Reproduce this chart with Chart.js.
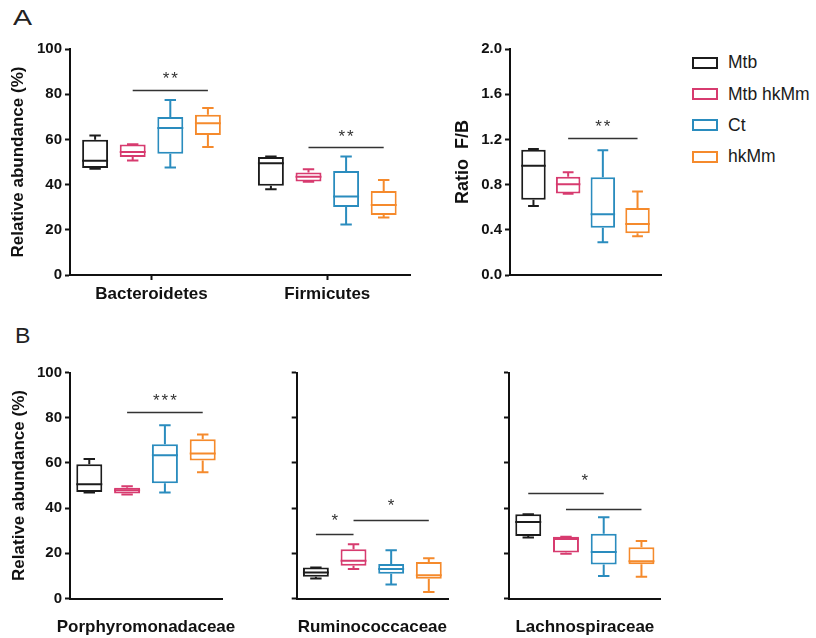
<!DOCTYPE html>
<html lang="en">
<head>
<meta charset="utf-8">
<title>Relative abundance of gut bacterial taxa</title>
<script src="https://cdn.jsdelivr.net/npm/chart.js@4.4.1/dist/chart.umd.min.js"></script>
<style>
  html, body { margin: 0; padding: 0; background: #fff; }
  body { position: relative; width: 816px; height: 638px; overflow: hidden;
         font-family: 'Liberation Sans', Arial, Helvetica, sans-serif; color: #111; }
  canvas { position: absolute; }
  .panel-letter { position: absolute; font-size: 22px; line-height: 1; color: #222; transform-origin: left top; }
  #legend { position: absolute; left: 692px; top: 47px; }
  #legend .item { height: 31.4px; display: flex; align-items: center; font-size: 17.5px; color: #1a1a1a; white-space: nowrap; }
  #legend .swatch { width: 22px; height: 8px; border: 2px solid; margin-right: 10px; }
</style>
</head>
<body>
<div class="panel-letter" style="left:13px;top:7px;transform:scaleX(1.3)">A</div>
<div class="panel-letter" style="left:15px;top:325px;transform:scaleX(1.05)">B</div>
<div id="legend"></div>
<script>
// ---- groups ----
const groups = ['Mtb', 'Mtb hkMm', 'Ct', 'hkMm'];
const groupColors = ['#1c1c1c', '#d73b6f', '#2a8cbe', '#f58a2c'];

// ---- five-number summaries per box: [min, Q1, median, Q3, max] ----
// Phylum level (relative abundance, %)
const phylumCategories = ['Bacteroidetes', 'Firmicutes'];
const phylumMtb     = [[47.0, 47.3, 50.6, 59.9, 61.7], [37.9, 39.5, 49.4, 52.2, 52.4]];
const phylumMtbHkMm = [[50.7, 52.2, 54.4, 57.7, 57.8], [41.3, 41.4, 43.5, 45.4, 46.8]];
const phylumCt      = [[47.6, 53.7, 65.0, 69.9, 77.4], [22.4, 30.1, 34.7, 46.0, 52.4]];
const phylumHkMm    = [[56.6, 61.9, 67.1, 70.9, 73.9], [25.4, 26.5, 31.0, 37.2, 42.0]];

// Firmicutes / Bacteroidetes ratio
const ratioCategories = ['F/B'];
const ratioMtb     = [[0.610, 0.665, 0.966, 1.108, 1.114]];
const ratioMtbHkMm = [[0.718, 0.721, 0.803, 0.869, 0.910]];
const ratioCt      = [[0.290, 0.419, 0.538, 0.866, 1.105]];
const ratioHkMm    = [[0.343, 0.369, 0.452, 0.594, 0.739]];

// Family level (relative abundance, %)
const porphCategories = ['Porphyromonadaceae'];
const porphMtb     = [[46.9, 47.1, 50.6, 59.4, 61.7]];
const porphMtbHkMm = [[46.0, 46.5, 47.9, 49.0, 49.7]];
const porphCt      = [[46.9, 51.0, 63.4, 68.3, 76.7]];
const porphHkMm    = [[55.9, 61.1, 64.2, 70.5, 72.6]];

const rumiCategories = ['Ruminococcaceae'];
const rumiMtb     = [[8.8, 9.6, 11.5, 13.7, 13.7]];
const rumiMtbHkMm = [[13.0, 14.5, 16.7, 21.8, 24.0]];
const rumiCt      = [[6.2, 10.9, 13.1, 15.3, 21.4]];
const rumiHkMm    = [[2.9, 8.7, 10.3, 16.1, 17.8]];

const lachCategories = ['Lachnospiraceae'];
const lachMtb     = [[27.0, 27.7, 33.9, 37.3, 37.3]];
const lachMtbHkMm = [[19.8, 20.4, 26.3, 27.3, 27.3]];
const lachCt      = [[10.0, 15.0, 20.6, 28.6, 36.0]];
const lachHkMm    = [[9.6, 15.2, 16.5, 22.7, 25.4]];

// ---- axis ticks ----
const abundanceTicks = [0, 20, 40, 60, 80, 100];
const ratioTicks = [0, 0.4, 0.8, 1.2, 1.6, 2.0];

// ---- significance bars (group indices into `groups`) ----
const phylumBrackets = [{ cat: 0, from: 1, to: 3, y: 82.0 }, { cat: 1, from: 1, to: 3, y: 56.6 }];
const phylumStars    = [{ cat: 0, from: 1, to: 3, y: 88.5, text: '**' }, { cat: 1, from: 1, to: 3, y: 62.7, text: '**' }];
const ratioBrackets  = [{ cat: 0, from: 1, to: 3, y: 1.208 }];
const ratioStars     = [{ cat: 0, from: 1, to: 3, y: 1.34, text: '**' }];
const porphBrackets  = [{ cat: 0, from: 1, to: 3, y: 82.4 }];
const porphStars     = [{ cat: 0, from: 1, to: 3, y: 88.9, text: '***' }];
const rumiBrackets   = [{ cat: 0, from: 0, to: 1, y: 28.6 }, { cat: 0, from: 1, to: 3, y: 34.7 }];
const rumiStars      = [{ cat: 0, from: 0, to: 1, y: 35.8, text: '*' }, { cat: 0, from: 1, to: 3, y: 42.5, text: '*' }];
const lachBrackets   = [{ cat: 0, from: 0, to: 2, y: 46.9 }, { cat: 0, from: 1, to: 3, y: 39.8 }];
const lachStars      = [{ cat: 0, from: 0, to: 3, y: 53.5, text: '*' }];

// ---------------------------------------------------------------
const FONT = "'Liberation Sans', Arial, Helvetica, sans-serif";
const INK = '#111';
Chart.defaults.font.family = FONT;
Chart.defaults.color = INK;

// Whiskers, caps and median lines on top of the floating Q1–Q3 bars
const boxWhiskers = {
  id: 'boxWhiskers',
  afterDatasetsDraw(chart) {
    const ctx = chart.ctx;
    const ys = chart.scales.y;
    chart.data.datasets.forEach((ds, di) => {
      const meta = chart.getDatasetMeta(di);
      meta.data.forEach((bar, i) => {
        const s = ds.summaries[i];
        const cx = bar.x, half = bar.width / 2, cap = bar.width * 0.22;
        const yMin = ys.getPixelForValue(s[0]);
        const yQ1 = ys.getPixelForValue(s[1]);
        const yMed = ys.getPixelForValue(s[2]);
        const yQ3 = ys.getPixelForValue(s[3]);
        const yMax = ys.getPixelForValue(s[4]);
        ctx.save();
        ctx.strokeStyle = ds.borderColor;
        ctx.lineWidth = 2;
        ctx.beginPath();
        ctx.moveTo(cx - half, yMed); ctx.lineTo(cx + half, yMed);
        ctx.moveTo(cx, yQ3); ctx.lineTo(cx, yMax);
        ctx.moveTo(cx - cap, yMax); ctx.lineTo(cx + cap, yMax);
        ctx.moveTo(cx, yQ1); ctx.lineTo(cx, yMin);
        ctx.moveTo(cx - cap, yMin); ctx.lineTo(cx + cap, yMin);
        ctx.stroke();
        ctx.restore();
      });
    });
  }
};

// Horizontal comparison bars with asterisks
function significance(brackets, stars) {
  return {
    id: 'significance',
    afterDatasetsDraw(chart) {
      const ctx = chart.ctx;
      const ys = chart.scales.y;
      const xAt = (g, c) => chart.getDatasetMeta(g).data[c].x;
      ctx.save();
      ctx.strokeStyle = '#333';
      ctx.lineWidth = 1.3;
      brackets.forEach(b => {
        const y = Math.round(ys.getPixelForValue(b.y)) + 0.5;
        ctx.beginPath();
        ctx.moveTo(xAt(b.from, b.cat), y);
        ctx.lineTo(xAt(b.to, b.cat), y);
        ctx.stroke();
      });
      ctx.fillStyle = '#333';
      ctx.font = '17px ' + FONT;
      ctx.letterSpacing = '2px';
      ctx.textAlign = 'center';
      ctx.textBaseline = 'middle';
      stars.forEach(s => {
        const x = (xAt(s.from, s.cat) + xAt(s.to, s.cat)) / 2 + 1;
        ctx.fillText(s.text, x, ys.getPixelForValue(s.y) + 4);
      });
      ctx.restore();
    }
  };
}

function boxChart(o) {
  const canvas = document.createElement('canvas');
  canvas.width = o.width;
  canvas.height = o.height;
  canvas.style.left = o.left + 'px';
  canvas.style.top = o.top + 'px';
  document.body.appendChild(canvas);

  const linearX = o.xRange !== undefined;
  const datasets = groups.map((g, gi) => ({
    label: g,
    summaries: o.summaries[gi],
    data: o.summaries[gi].map((s, ci) => linearX ? { x: ci + 1, y: [s[1], s[3]] } : [s[1], s[3]]),
    borderColor: groupColors[gi],
    backgroundColor: '#ffffff',
    borderWidth: 2,
    borderSkipped: false
  }));

  const yWidth = o.plot.left - o.left;
  const padding = {
    left: 0,
    top: o.plot.top - o.top,
    right: o.left + o.width - o.plot.right,
    bottom: o.top + o.height - o.plot.bottom - o.xHeight
  };

  const border = { display: true, color: INK, width: 2 };
  const xAxis = linearX ? {
    type: 'linear', min: o.xRange[0], max: o.xRange[1], offset: false,
    afterBuildTicks: s => { s.ticks = o.categories.map((c, i) => ({ value: i + 1 })); },
    ticks: { callback: (v, i) => o.categories[i], font: { size: 17, weight: 'bold' }, color: INK,
             padding: o.xLabelPad, maxRotation: 0, autoSkip: false },
    grid: { offset: false, drawOnChartArea: false, drawTicks: true, tickLength: 5, tickWidth: 2, tickColor: INK },
    border,
    afterFit: s => { s.height = o.xHeight; }
  } : {
    type: 'category', labels: o.categories, offset: true,
    ticks: { display: o.showXLabels, font: { size: 17, weight: 'bold' }, color: INK, padding: o.xLabelPad, maxRotation: 0 },
    grid: { drawOnChartArea: false, drawTicks: false },
    border,
    afterFit: s => { s.height = o.xHeight; }
  };

  const yAxis = {
    min: o.yTicks[0], max: o.yTicks[o.yTicks.length - 1],
    afterBuildTicks: s => { s.ticks = o.yTicks.map(v => ({ value: v })); },
    ticks: { font: { size: 15, weight: 'bold' }, color: INK, padding: 3,
             callback: v => o.showYLabels ? (o.yDecimals ? v.toFixed(o.yDecimals) : String(v)) : '' },
    grid: { drawOnChartArea: false, drawTicks: true, tickLength: 5, tickWidth: 2, tickColor: INK },
    border,
    title: o.yTitle ? { display: true, text: o.yTitle, font: { size: o.titleSize || 17, weight: 'bold' }, color: INK,
                        padding: { top: o.titleOffset, bottom: 0 } } : { display: false },
    afterFit: s => { s.width = yWidth; }
  };

  return new Chart(canvas, {
    type: 'bar',
    data: { datasets },
    options: {
      responsive: false,
      animation: false,
      events: [],
      layout: { padding },
      categoryPercentage: o.catPct,
      barPercentage: o.barPct,
      plugins: { legend: { display: false }, tooltip: { enabled: false } },
      scales: { x: xAxis, y: yAxis }
    },
    plugins: [boxWhiskers, significance(o.brackets, o.stars)]
  });
}

// A: phyla
boxChart({
  left: 0, top: 30, width: 420, height: 285,
  plot: { left: 70, top: 49, right: 410, bottom: 275 }, xHeight: 30,
  categories: phylumCategories, xRange: [0.5364, 2.4704], xLabelPad: 4,
  summaries: [phylumMtb, phylumMtbHkMm, phylumCt, phylumHkMm],
  yTicks: abundanceTicks, showYLabels: true,
  yTitle: 'Relative abundance (%)', titleOffset: 8,
  catPct: 0.8555, barPct: 0.69,
  brackets: phylumBrackets, stars: phylumStars
});

// A: F/B ratio
boxChart({
  left: 420, top: 30, width: 260, height: 285,
  plot: { left: 510, top: 49, right: 661, bottom: 275 }, xHeight: 30,
  categories: ratioCategories, showXLabels: false, xLabelPad: 4,
  summaries: [ratioMtb, ratioMtbHkMm, ratioCt, ratioHkMm],
  yTicks: ratioTicks, showYLabels: true, yDecimals: 1,
  yTitle: 'Ratio  F/B', titleOffset: 32, titleSize: 18,
  catPct: 0.919, barPct: 0.706,
  brackets: ratioBrackets, stars: ratioStars
});

// B: families
boxChart({
  left: 0, top: 355, width: 310, height: 290,
  plot: { left: 70, top: 372.5, right: 222, bottom: 598.5 }, xHeight: 40,
  categories: porphCategories, showXLabels: true, xLabelPad: 19,
  summaries: [porphMtb, porphMtbHkMm, porphCt, porphHkMm],
  yTicks: abundanceTicks, showYLabels: true,
  yTitle: 'Relative abundance (%)', titleOffset: 9,
  catPct: 0.995, barPct: 0.688,
  brackets: porphBrackets, stars: porphStars
});

boxChart({
  left: 240, top: 355, width: 290, height: 290,
  plot: { left: 296.7, top: 372.5, right: 448, bottom: 598.5 }, xHeight: 40,
  categories: rumiCategories, showXLabels: true, xLabelPad: 19,
  summaries: [rumiMtb, rumiMtbHkMm, rumiCt, rumiHkMm],
  yTicks: abundanceTicks, showYLabels: false,
  catPct: 0.995, barPct: 0.688,
  brackets: rumiBrackets, stars: rumiStars
});

boxChart({
  left: 460, top: 355, width: 300, height: 290,
  plot: { left: 509, top: 372.5, right: 660.7, bottom: 598.5 }, xHeight: 40,
  categories: lachCategories, showXLabels: true, xLabelPad: 19,
  summaries: [lachMtb, lachMtbHkMm, lachCt, lachHkMm],
  yTicks: abundanceTicks, showYLabels: false,
  catPct: 0.995, barPct: 0.688,
  brackets: lachBrackets, stars: lachStars
});

// Legend
const legendEl = document.getElementById('legend');
groups.forEach((g, i) => {
  const row = document.createElement('div');
  row.className = 'item';
  const sw = document.createElement('span');
  sw.className = 'swatch';
  sw.style.borderColor = groupColors[i];
  const label = document.createElement('span');
  label.textContent = g;
  row.appendChild(sw);
  row.appendChild(label);
  legendEl.appendChild(row);
});
</script>
</body>
</html>
